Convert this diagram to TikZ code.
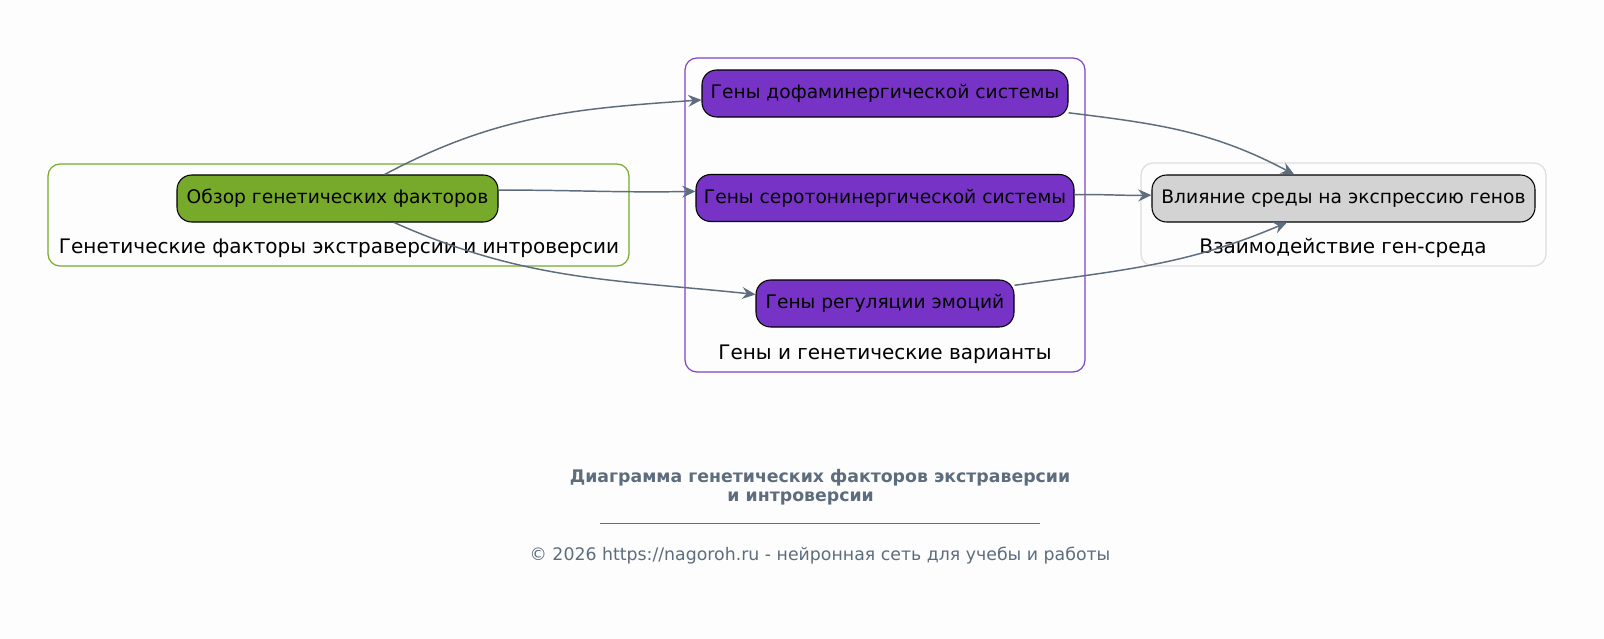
\documentclass[tikz,border=0pt]{standalone}
\usepackage{fontspec}
\setmainfont{DejaVu Sans}
\usetikzlibrary{arrows.meta,calc}
\definecolor{bg}{HTML}{FDFDFD}
\definecolor{edgec}{HTML}{5D6D7E}
\definecolor{greenf}{HTML}{77AA2A}
\definecolor{purplef}{HTML}{7733C5}
\definecolor{purpleb}{HTML}{7E44C4}
\definecolor{grayf}{HTML}{D3D3D3}
\definecolor{grayb}{HTML}{DDDDDD}
\def\u{0.75pt}
\tikzset{
  box/.style={draw=black, line width=0.8pt, rounded corners=11pt, inner sep=0pt, minimum height=47*\u, font=\fontsize{14pt}{17pt}\selectfont, text=black},
  cluster/.style={line width=0.9pt, rounded corners=9pt},
  clabel/.style={font=\fontsize{15pt}{18pt}\selectfont, text=black, inner sep=0pt},
  conn/.style={draw=edgec, line width=1.1pt, -{Stealth[length=10pt,width=9pt,inset=3.5pt]}},
}
\begin{document}
\begin{tikzpicture}[x=0.75pt,y=-0.75pt]
\fill[bg] (0,0) rectangle (1604,639);
\useasboundingbox (0,0) rectangle (1604,639);
% clusters
\draw[cluster, draw=greenf] (48,164) rectangle (629,266);
\draw[cluster, draw=purpleb] (685,58) rectangle (1085,372);
\draw[cluster, draw=grayb] (1141,163) rectangle (1546,266);
\node[clabel] (lab1) at (339,248) {Генетические факторы экстраверсии и интроверсии};
\node[clabel] (lab2) at (885,354) {Гены и генетические варианты};
\node[clabel] (lab3) at (1343,248) {Взаимодействие ген-среда};
% nodes
\node[box, fill=greenf, minimum width=321*\u] (obzor) at (337.5,198.5) {Обзор генетических факторов};
\node[box, fill=purplef, minimum width=366*\u] (dopa) at (885,93.5) {Гены дофаминергической системы};
\node[box, fill=purplef, minimum width=378*\u] (sero) at (885,198) {Гены серотонинергической системы};
\node[box, fill=purplef, minimum width=258*\u] (emo) at (885,303.5) {Гены регуляции эмоций};
\node[box, fill=grayf, minimum width=383*\u] (infl) at (1343.5,198.5) {Влияние среды на экспрессию генов};
% edges
\draw[conn] (obzor.27) to[out=28,in=184] (dopa.182);
\draw[conn] (obzor.3) to[out=0,in=181] (sero.178);
\draw[conn] (obzor.-23) to[out=-24,in=174] (emo.176);
\draw[conn] (dopa.-6) to[out=-7,in=152] (infl.154);
\draw[conn] (sero.1) to[out=1,in=181] (infl.179);
\draw[conn] (emo.8) to[out=8,in=203] (infl.203);
% footer
\node[text=edgec, font=\fontsize{13pt}{14pt}\selectfont\bfseries, align=center, inner sep=0pt] (title) at (820,487.5) {Диаграмма генетических факторов экстраверсии\\и интроверсии\hspace*{29pt}};
\coordinate (ul1) at (600,523);
\coordinate (ul2) at (1040,523);
\draw[edgec, line width=0.7pt] (ul1) -- (ul2);
\node[text=edgec, font=\fontsize{13pt}{15pt}\selectfont, inner sep=0pt] (copy) at (820,556) {© 2026 https://nagoroh.ru - нейронная сеть для учебы и работы};
\end{tikzpicture}
\end{document}
